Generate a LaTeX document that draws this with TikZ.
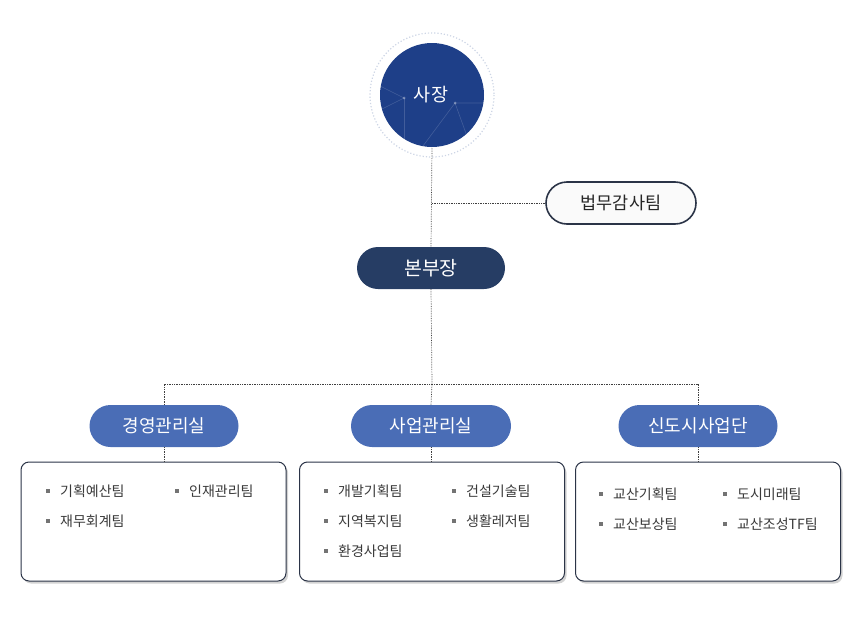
\documentclass[tikz,border=0pt]{standalone}
\usepackage{fontspec}
\setmainfont{Noto Sans CJK KR}
\usepackage{tikz}
\usetikzlibrary{positioning,shadows,calc}
\definecolor{ceoblue}{HTML}{1E3F88}
\definecolor{hqnavy}{HTML}{263D64}
\definecolor{deptblue}{HTML}{4A6DB6}
\definecolor{edgedark}{HTML}{2B3447}
\definecolor{itemtext}{HTML}{3A3A3A}

\tikzset{
  link/.style={densely dotted, line width=0.7pt, draw=black!75},
  pill/.style={rectangle, rounded corners=21pt, minimum height=42pt, inner sep=0pt},
  deptpill/.style={pill, fill=deptblue, text=white, font=\fontsize{18}{18}\selectfont},
  teambox/.style={rectangle, rounded corners=8pt, draw=edgedark, line width=1pt, fill=white,
    minimum width=265pt, minimum height=119pt, inner sep=0pt,
    drop shadow={shadow xshift=2pt, shadow yshift=-2.5pt, opacity=0.35}},
  team/.style={anchor=west, inner sep=0pt, text=itemtext, font=\fontsize{14}{14}\selectfont},
  dot/.style={rectangle, fill=black!55, minimum size=3.5pt, inner sep=0pt}
}

\begin{document}
\begin{tikzpicture}[x=1pt,y=-1pt]
\useasboundingbox (0,0) rectangle (867,621);

% top
\draw[dotted, line width=1.2pt, draw=ceoblue!22] (432,95) circle (62);
\fill[ceoblue] (432,95) circle (52);
\begin{scope}
\clip (432,95) circle (52);
\draw[white, opacity=0.16, line width=0.6pt] (380,86) -- (404,98) -- (380,110);
\draw[white, opacity=0.16, line width=0.6pt] (404,98) -- (404,150);
\draw[white, opacity=0.16, line width=0.6pt] (420,150) -- (455,103) -- (490,103);
\draw[white, opacity=0.16, line width=0.6pt] (455,103) -- (472,150);
\fill[white, opacity=0.35] (404,98) circle (1.5) (455,103) circle (1.5);
\end{scope}
\node[text=white, font=\fontsize{18.5}{18.5}\selectfont] (ceo) at (431,95) {사장};

\node[pill, minimum width=150pt, fill=gray!4, draw=edgedark, line width=1.6pt,
  text=black!85, font=\fontsize{17.5}{17.5}\selectfont] (audit) at (621,203) {법무감사팀};
\node[pill, minimum width=148pt, fill=hqnavy, text=white,
  font=\fontsize{19.5}{19.5}\selectfont] (hq) at (431,268) {본부장};

% departments
\node[deptpill, minimum width=149pt] (mgmt) at (164,426) {경영관리실};
\node[deptpill, minimum width=160pt] (biz) at (431,426) {사업관리실};
\node[deptpill, minimum width=159pt] (city) at (698,426) {신도시사업단};

\node[teambox] (mgmtbox) at (153.5,521.5) {};
\node[teambox] (bizbox) at (432,521.5) {};
\node[teambox] (citybox) at (708,521.5) {};

% links
\coordinate (branch) at (432,384);
\coordinate (auditjoin) at (432,203);
\draw[link] (ceo) ++(1,53) -- (hq.north);
\draw[link] (auditjoin) -- (audit.west);
\draw[link] (hq.south) -- (branch);
\draw[link] (mgmt.north) |- (branch) -| (city.north);
\draw[link] (branch) -- (biz.north);
\draw[link] (mgmt.south) -- (mgmt.south |- mgmtbox.north);
\draw[link] (biz.south) -- (biz.south |- bizbox.north);
\draw[link] (city.south) -- (city.south |- citybox.north);

% teams
\foreach \x/\y/\name in {60/491/기획예산팀, 60/521/재무회계팀, 189/491/인재관리팀,
  338/491/개발기획팀, 338/521/지역복지팀, 338/551/환경사업팀, 466/491/건설기술팀, 466/521/생활레저팀,
  613/494/교산기획팀, 613/524/교산보상팀, 737/494/도시미래팀, 737/524/교산조성TF팀}
{
  \node[dot] at (\x-12,\y) {};
  \node[team] at (\x,\y) {\name};
}
\end{tikzpicture}
\end{document}
